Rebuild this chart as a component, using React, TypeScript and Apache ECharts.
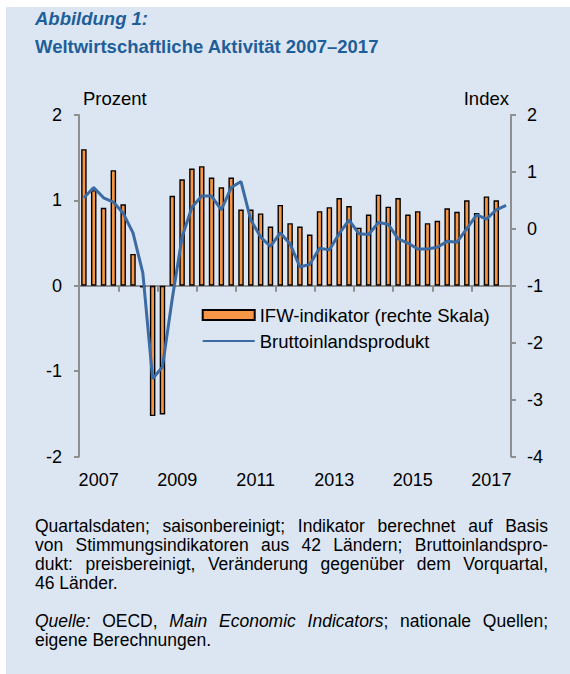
import React, { useEffect, useRef } from 'react';
import * as echarts from 'echarts';

// ---- data -------------------------------------------------------------
const years: string[] = ['2007', '2008', '2009', '2010', '2011', '2012', '2013', '2014', '2015', '2016', '2017'];
const quarterNames: string[] = ['Q1', 'Q2', 'Q3', 'Q4'];

// Bruttoinlandsprodukt, Veränderung gegenüber Vorquartal (Prozent, linke Skala), 2007Q1–2017Q4
const gdp: number[] = [
  1.03, 1.15, 1.03, 0.98, 0.85, 0.62, 0.15, -1.09,
  -0.95, -0.15, 0.57, 0.92, 1.05, 1.05, 0.89, 1.15,
  1.22, 0.77, 0.57, 0.46, 0.62, 0.49, 0.22, 0.25,
  0.44, 0.42, 0.61, 0.77, 0.61, 0.60, 0.74, 0.72,
  0.55, 0.50, 0.43, 0.43, 0.45, 0.52, 0.51, 0.67,
  0.83, 0.78, 0.89, 0.94,
];

// IFW-Indikator (Index, rechte Skala), 2007Q1–2017Q3
const ifw: number[] = [
  1.40, 0.68, 0.37, 1.03, 0.43, -0.44, -1.03, -3.29,
  -3.26, 0.58, 0.87, 1.06, 1.10, 0.90, 0.73, 0.90,
  0.34, 0.34, 0.27, 0.04, 0.42, 0.10, 0.04, -0.10,
  0.31, 0.38, 0.54, 0.40, 0.02, 0.25, 0.60, 0.39,
  0.54, 0.25, 0.31, 0.10, 0.14, 0.36, 0.30, 0.50,
  0.28, 0.57, 0.50,
];

// right-scale value at which the bars start (aligned with 0 % on the left scale)
const IFW_BASE = -1;

const leftAxis = { min: -2, max: 2, interval: 1 };
const rightAxis = { min: -4, max: 2, interval: 1 };

// ---- styles -----------------------------------------------------------
const FONT = '"Liberation Sans", Arial, Helvetica, sans-serif';
const TITLE_COLOR = '#1f5e99';
const AXIS_COLOR = '#8f8f8f';
const ORANGE = '#f79646';
const BLUE = '#3c6aa3';
const BG = '#dce6f2';

const quarters: string[] = years.flatMap((y) => quarterNames.map((q) => `${y} ${q}`));

const IFW_NAME = 'IFW-indikator (rechte Skala)';
const GDP_NAME = 'Bruttoinlandsprodukt';

function buildOption(): echarts.EChartsOption {
  const axisLineStyle = { color: AXIS_COLOR, width: 2 };
  return {
    animation: false,
    backgroundColor: 'transparent',
    textStyle: { fontFamily: FONT },
    graphic: [
      {
        type: 'text',
        left: 29,
        top: 2,
        style: { text: 'Abbildung 1:', font: `italic bold 18.5px ${FONT}`, fill: TITLE_COLOR },
      },
      {
        type: 'text',
        left: 29,
        top: 30,
        style: { text: 'Weltwirtschaftliche Aktivität 2007–2017', font: `bold 18.5px ${FONT}`, fill: TITLE_COLOR },
      },
    ],
    grid: { left: 73, top: 108, width: 432, height: 341.5, containLabel: false },
    legend: {
      orient: 'vertical',
      left: 195.7,
      top: 298,
      padding: 0,
      itemWidth: 52,
      itemHeight: 10,
      itemGap: 6,
      selectedMode: false,
      data: [
        { name: IFW_NAME, icon: 'rect' },
        { name: GDP_NAME, itemStyle: { opacity: 0 } } as any,
      ],
      textStyle: { fontSize: 18.5, color: '#000', lineHeight: 20, fontFamily: FONT },
    },
    xAxis: [
      {
        type: 'category',
        data: quarters,
        position: 'bottom',
        boundaryGap: true,
        axisLine: { show: true, onZero: true, onZeroAxisIndex: 0, lineStyle: axisLineStyle },
        axisTick: { show: true, interval: 3, length: 6, lineStyle: axisLineStyle },
        axisLabel: { show: false },
        splitLine: { show: false },
      },
      {
        type: 'category',
        data: years,
        position: 'bottom',
        boundaryGap: true,
        axisLine: { show: false, onZero: false },
        axisTick: { show: false },
        axisLabel: { interval: 1, color: '#000', fontSize: 18, margin: 14, fontFamily: FONT },
        splitLine: { show: false },
      },
    ],
    yAxis: [
      {
        type: 'value',
        position: 'left',
        ...leftAxis,
        name: 'Prozent',
        nameLocation: 'end',
        nameGap: 7,
        nameTextStyle: { align: 'left', color: '#000', fontSize: 18.5, fontFamily: FONT, padding: [0, 0, 0, 4] },
        axisLine: { show: true, lineStyle: axisLineStyle },
        axisTick: { show: true, length: 5, lineStyle: axisLineStyle },
        axisLabel: { color: '#000', fontSize: 18, margin: 17, fontFamily: FONT },
        splitLine: { show: false },
      },
      {
        type: 'value',
        position: 'right',
        ...rightAxis,
        name: 'Index',
        nameLocation: 'end',
        nameGap: 7,
        nameTextStyle: { align: 'right', color: '#000', fontSize: 18.5, fontFamily: FONT, padding: [0, 2, 0, 0] },
        axisLine: { show: true, lineStyle: axisLineStyle },
        axisTick: { show: true, length: 5, lineStyle: axisLineStyle },
        axisLabel: { color: '#000', fontSize: 18, margin: 16, fontFamily: FONT },
        splitLine: { show: false },
      },
    ],
    series: [
      {
        type: 'bar',
        name: '_base',
        xAxisIndex: 0,
        yAxisIndex: 1,
        stack: 'ifw',
        stackStrategy: 'all',
        data: ifw.map(() => IFW_BASE),
        barWidth: 5.5,
        silent: true,
        itemStyle: { color: 'rgba(0,0,0,0)', borderWidth: 0 },
      } as any,
      {
        type: 'bar',
        name: IFW_NAME,
        xAxisIndex: 0,
        yAxisIndex: 1,
        stack: 'ifw',
        stackStrategy: 'all',
        data: ifw.map((v) => v - IFW_BASE),
        barWidth: 5.5,
        itemStyle: { color: ORANGE, borderColor: '#000', borderWidth: 1.4 },
      } as any,
      {
        type: 'line',
        name: GDP_NAME,
        xAxisIndex: 0,
        yAxisIndex: 0,
        data: gdp,
        symbol: 'none',
        lineStyle: { color: BLUE, width: 3 },
        itemStyle: { color: BLUE },
        z: 3,
      },
    ],
  };
}

const justified: React.CSSProperties = { textAlign: 'justify', textAlignLast: 'justify' as any, whiteSpace: 'nowrap' };
const plain: React.CSSProperties = { textAlign: 'left', whiteSpace: 'nowrap' };

export default function App() {
  const ref = useRef<HTMLDivElement>(null);
  useEffect(() => {
    if (!ref.current) return;
    const chart = echarts.init(ref.current, null, { renderer: 'svg' });
    chart.setOption(buildOption());
    return () => chart.dispose();
  }, []);
  return (
    <div
      style={{
        position: 'absolute',
        left: 6,
        top: 7,
        width: 564,
        height: 667,
        background: BG,
        fontFamily: FONT,
        overflow: 'hidden',
      }}
    >
      <div ref={ref} style={{ position: 'absolute', left: 0, top: 0, width: 564, height: 667 }} />
      <div
        style={{
          position: 'absolute',
          left: 29,
          top: 509.5,
          width: 513,
          fontSize: 17.5,
          lineHeight: '19px',
          color: '#000',
        }}
      >
        <div style={justified}>Quartalsdaten; saisonbereinigt; Indikator berechnet auf Basis</div>
        <div style={justified}>von Stimmungsindikatoren aus 42 Ländern; Bruttoinlandspro-</div>
        <div style={justified}>dukt: preisbereinigt, Veränderung gegenüber dem Vorquartal,</div>
        <div style={plain}>46 Länder.</div>
        <div style={{ height: 19 }} />
        <div style={justified}>
          <i>Quelle:</i> OECD, <i>Main Economic Indicators</i>; nationale Quellen;
        </div>
        <div style={plain}>eigene Berechnungen.</div>
      </div>
    </div>
  );
}
